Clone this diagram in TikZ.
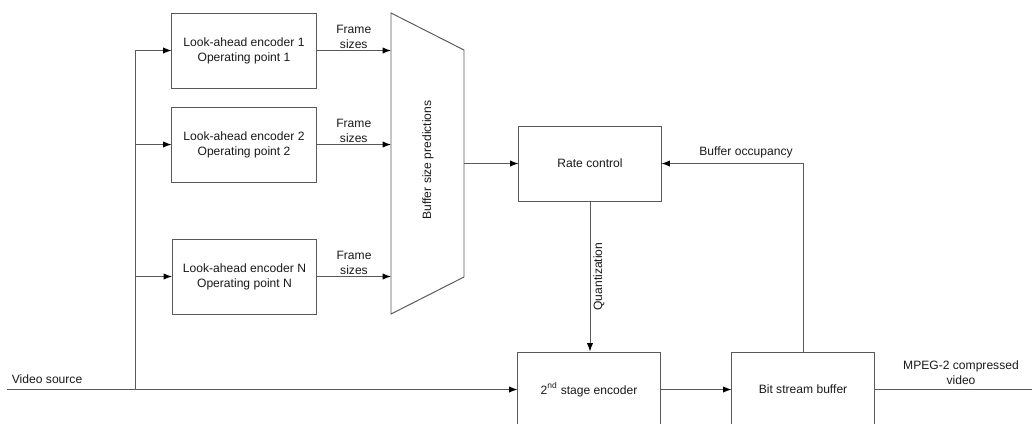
\documentclass[tikz,border=0pt]{standalone}
\usepackage{fontspec}
\setmainfont{Liberation Sans}
\usetikzlibrary{arrows.meta}

\definecolor{linegray}{HTML}{5A5A5A}
\definecolor{textgray}{HTML}{1A1A1A}

\begin{document}
\begin{tikzpicture}[x=0.025cm,y=-0.025cm,>={Latex[length=6pt,width=4.5pt,color=black]},
  line width=0.7pt,draw=linegray,
  every node/.style={font=\fontsize{8.6}{10.6}\selectfont,text=textgray},
  enc node/.style={rectangle,draw=linegray,fill=white,align=center,
    minimum width=3.6cm,minimum height=1.875cm,inner sep=0pt},
  ctrl node/.style={rectangle,draw=linegray,fill=white,align=center,
    minimum width=3.55cm,minimum height=1.875cm,inner sep=0pt},
  lbl node/.style={align=center,inner sep=1pt}]
  \useasboundingbox (0,0) rectangle (1034,423);
  \clip (0,0) rectangle (1034,423);

  % look-ahead encoders
  \node[enc node] (enc1) at (244,50.5) {Look-ahead encoder 1\\Operating point 1};
  \node[enc node] (enc2) at (244,144.5) {Look-ahead encoder 2\\Operating point 2};
  \node[enc node] (encN) at (244.5,276.5) {Look-ahead encoder N\\Operating point N};

  % buffer size predictions
  \coordinate (tl) at (391,13);
  \coordinate (tr) at (464,50);
  \coordinate (br) at (464,277);
  \coordinate (bl) at (391,314);
  \draw[linegray] (tl) -- (tr) -- (br) -- (bl) -- cycle;
  \node[rotate=90] (pred) at (428,160) {Buffer size predictions};
  \coordinate (p1) at (391,50.5);
  \coordinate (p2) at (391,144.5);
  \coordinate (pN) at (391,276.5);
  \coordinate (pout) at (464,163.5);

  % second stage
  \node[ctrl node] (rate) at (590,163.5) {Rate control};
  \node[ctrl node] (stage2) at (589,389.5) {2\textsuperscript{nd} stage encoder};
  \node[ctrl node] (bsb) at (803,389.5) {Bit stream buffer};

  % video source bus
  \coordinate (src) at (7,389.5);
  \coordinate (bus) at (135,389.5);
  \coordinate (b1) at (135,50.5);
  \coordinate (b2) at (135,144.5);
  \coordinate (bN) at (135,276.5);
  \coordinate (out) at (1032,389.5);

  \draw (bus) -- (b1);
  \path[->]
    (src) edge (stage2)
    (b1) edge (enc1)
    (b2) edge (enc2)
    (bN) edge (encN)
    (enc1) edge node[lbl node,above] {Frame\\sizes} (p1)
    (enc2) edge node[lbl node,above] {Frame\\sizes} (p2)
    (encN) edge node[lbl node,above] {Frame\\sizes} (pN)
    (pout) edge (rate)
    (stage2) edge (bsb);
  \draw[->] (rate.south) -- node[lbl node,rotate=90,below=1pt] {Quantization} (rate.south |- stage2.north);
  \draw[->] (bsb.north) |- (rate.east);
  \draw (bsb) -- (out);

  \node[lbl node,anchor=west] (vsrc) at (10,379) {Video source};
  \node[lbl node] (occ) at (746,152) {Buffer occupancy};
  \node[lbl node] (mpeg) at (961,372.5) {MPEG-2 compressed\\video};
\end{tikzpicture}
\end{document}
